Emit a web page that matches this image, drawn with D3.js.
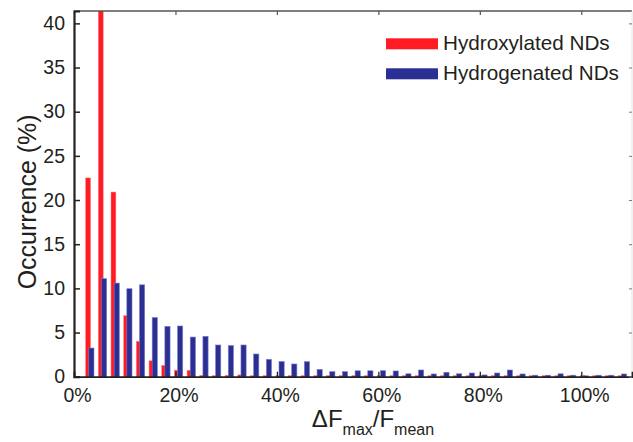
<!DOCTYPE html>
<html><head><meta charset="utf-8">
<script src="https://cdn.jsdelivr.net/npm/d3@7"></script>
<style>
html,body{margin:0;padding:0;background:#fff;}
svg{display:block;font-family:"Liberation Sans",Arial,Helvetica,sans-serif;}
</style></head><body>
<svg id="c" width="633" height="442"></svg>
<script>
const binCenters = [3.1,5.6,8.1,10.6,13.1,15.6,18.1,20.6,23.1,25.6,28.1,30.6,33.1,35.6,38.1,40.6,43.1,45.6,48.1,50.6,53.1,55.6,58.1,60.6,63.1,65.6,68.1,70.6,73.1,75.6,78.1,80.6,83.1,85.6,88.1,90.6,93.1,95.6,98.1,100.6,103.1,105.6,108.1];
const hydroxylated = [22.5,42.0,20.9,6.9,4.0,1.8,1.27,0.74,0.72,0.15,0.08,0.15,0.2,0.1,0.1,0,0,0,0,0,0,0,0,0,0,0,0,0,0,0,0,0,0,0,0,0,0,0,0,0,0,0,0];
const hydrogenated = [3.25,11.1,10.6,9.96,10.4,6.7,5.7,5.74,4.49,4.57,3.59,3.52,3.59,2.57,1.97,1.72,1.44,1.70,0.83,0.57,0.57,0.67,0.67,0.68,0.65,0.33,0.76,0.31,0.5,0.33,0.42,0.2,0.42,0.76,0.31,0.17,0.17,0.33,0.17,0.1,0.17,0.17,0.31];
const seriesNames = ["Hydroxylated NDs","Hydrogenated NDs"];
const xTicks = [0,20,40,60,80,100];
const yTicks = [0,5,10,15,20,25,30,35,40];

const svg = d3.select("#c");
const L=74, R=632, T=11, B=376.7;
const x = d3.scaleLinear().domain([0,110]).range([L,R]);
const y = d3.scaleLinear().domain([0,41.4]).range([B,T]);
const binW = x(2.5)-x(0);
const red="#ff1a24", blue="#2b2e92", txt="#231f20";

svg.append("defs").append("clipPath").attr("id","clip")
  .append("rect").attr("x",L).attr("y",T).attr("width",R-L).attr("height",B-T+2);

const g = svg.append("g").attr("clip-path","url(#clip)");
const rw = binW*0.38, bw = binW*0.41, off = binW*0.13;
g.selectAll("rect.r").data(binCenters).enter().append("rect").attr("class","r")
  .attr("x",(d)=>x(d)-off-rw/2)
  .attr("y",(d,i)=>Math.min(y(hydroxylated[i]),B-1))
  .attr("width",rw)
  .attr("height",(d,i)=>Math.max(B-y(hydroxylated[i]),1)+0.8)
  .attr("fill",red).attr("stroke","#ff7078").attr("stroke-width",0.5);
g.selectAll("rect.b").data(binCenters).enter().append("rect").attr("class","b")
  .attr("x",(d)=>x(d)+off-bw/2)
  .attr("y",(d,i)=>y(hydrogenated[i]))
  .attr("width",bw)
  .attr("height",(d,i)=>B-y(hydrogenated[i])+0.8)
  .attr("fill",blue).attr("stroke","#7b7fc8").attr("stroke-width",0.6);

// frame
svg.append("line").attr("x1",L).attr("x2",R).attr("y1",T).attr("y2",T).attr("stroke","#555").attr("stroke-width",1.5);
svg.append("line").attr("x1",R).attr("x2",R).attr("y1",T).attr("y2",B).attr("stroke","#ddd").attr("stroke-width",0.8);

// axes
const xAxis = d3.axisBottom(x).tickValues(xTicks).tickFormat(d=>d+"%").tickSize(-5).tickPadding(11);
const gx = svg.append("g").attr("transform",`translate(0,${B})`).call(xAxis);
gx.select(".domain").attr("stroke","#222").attr("stroke-width",1.8);
gx.selectAll(".tick line").attr("stroke","#222").attr("stroke-width",1.3);
gx.selectAll(".tick text").attr("font-size",19.5).attr("fill",txt).attr("font-family","Liberation Sans, Arial, sans-serif").attr("dx",3);

const xTop = d3.axisTop(x).tickValues(xTicks).tickFormat("").tickSize(-4);
const gxt = svg.append("g").attr("transform",`translate(0,${T})`).call(xTop);
gxt.select(".domain").remove();
gxt.selectAll(".tick line").attr("stroke","#555").attr("stroke-width",1.2);

const yAxis = d3.axisLeft(y).tickValues(yTicks).tickSize(-6).tickPadding(9);
const gy = svg.append("g").attr("transform",`translate(${L},0)`).call(yAxis);
gy.select(".domain").attr("stroke","#222").attr("stroke-width",2.2);
gy.selectAll(".tick line").attr("stroke","#222").attr("stroke-width",1.5);
gy.selectAll(".tick text").attr("font-size",19.5).attr("fill",txt).attr("font-family","Liberation Sans, Arial, sans-serif");

const yR = d3.axisRight(y).tickValues(yTicks).tickFormat("").tickSize(-3);
const gyr = svg.append("g").attr("transform",`translate(${R},0)`).call(yR);
gyr.select(".domain").remove();
gyr.selectAll(".tick line").attr("stroke","#777").attr("stroke-width",1);

// axis titles
svg.append("text").attr("transform",`translate(36,${(T+B)/2+8}) rotate(-90)`)
  .attr("text-anchor","middle").attr("font-size",25).attr("fill",txt).text("Occurrence (%)");
const xt = svg.append("text").attr("x",(L+R)/2+20).attr("y",427).attr("text-anchor","middle")
  .attr("font-size",24).attr("fill",txt);
xt.append("tspan").text("ΔF");
xt.append("tspan").attr("font-size",16).attr("dy",8).text("max");
xt.append("tspan").attr("dy",-8).text("/F");
xt.append("tspan").attr("font-size",16).attr("dy",8).text("mean");

// legend
const leg = svg.append("g");
[red,blue].forEach((c,i)=>{
  leg.append("rect").attr("x",386).attr("y",38.3+i*30).attr("width",52).attr("height",11).attr("fill",c);
  leg.append("text").attr("x",443).attr("y",49.8+i*30).attr("font-size",20.7).attr("fill",txt).text(seriesNames[i]);
});
</script></body></html>
